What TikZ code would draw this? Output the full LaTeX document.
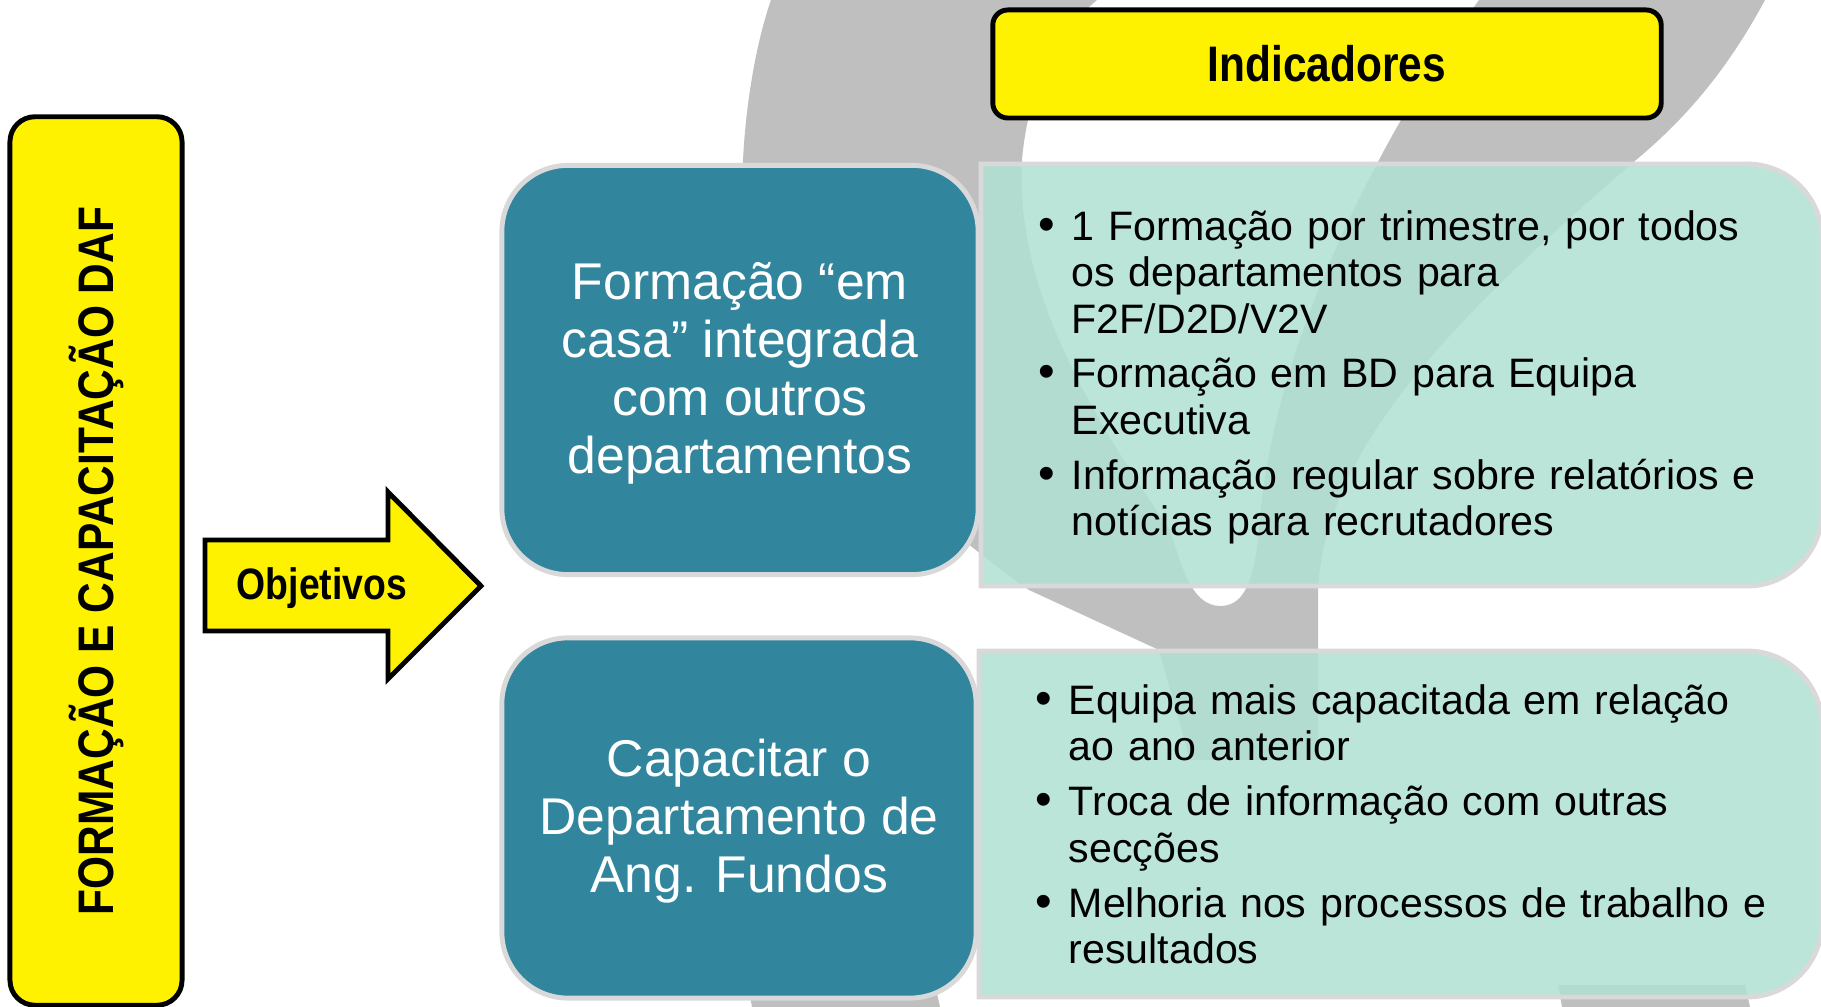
\documentclass[tikz,border=0pt]{standalone}
\usepackage{fontspec}
\setmainfont{Liberation Sans}
\newfontfamily\narrowfont[FakeStretch=0.85]{Liberation Sans}
\usepackage{tikz}
\usetikzlibrary{positioning}

\definecolor{tealbox}{RGB}{49,133,156}
\definecolor{mint}{RGB}{176,225,211}
\definecolor{bggray}{RGB}{191,191,191}
\definecolor{rimgray}{RGB}{217,217,217}

\newenvironment{kpilist}{%
  \hyphenpenalty=10000\exhyphenpenalty=10000
  \begin{list}{\textbullet}{%
    \setlength{\leftmargin}{0.26cm}\setlength{\labelwidth}{0.26cm}%
    \setlength{\labelsep}{0pt}\setlength{\itemsep}{2.4pt}%
    \setlength{\parsep}{0pt}\setlength{\topsep}{0pt}\setlength{\partopsep}{0pt}%
    \renewcommand{\makelabel}[1]{\hspace{-0.07cm}{\fontsize{13.5pt}{13.5pt}\selectfont##1}\hfil}}}
  {\end{list}}

\begin{document}
\begin{tikzpicture}[x=0.01cm, y=-0.01cm,
    hl/.style={draw=black, line width=1.4pt, fill=yellow, rounded corners=0.15cm},
    goal/.style={draw=rimgray, line width=1.4pt, fill=tealbox, rounded corners=0.66cm, text=white, align=center, font=\fontsize{14.7pt}{16.5pt}\selectfont},
    kpi/.style={draw=rimgray, line width=1.4pt, fill=mint, fill opacity=0.86},
    kpitext/.style={anchor=west, text width=7.31cm, align=left, inner sep=0pt, font=\fontsize{11.7pt}{13.2pt}\selectfont}
]
    \useasboundingbox (0,0) rectangle (1821,1007);

    % Background mark
    \fill[bggray, even odd rule]
        (1029,590) .. controls (860,470) and (735,320) .. (743,160)
        .. controls (746,100) and (757,40) .. (771,0)
        .. controls (820,-180) and (1040,-330) .. (1300,-330)
        .. controls (1620,-330) and (1840,-160) .. (1765,0)
        .. controls (1730,65) and (1690,115) .. (1636,160)
        .. controls (1450,320) and (1325,450) .. (1318,590)
        -- (1318,760) -- (1190,760) -- (1159,650) -- cycle
        (1220,606) .. controls (1190,606) and (1180,560) .. (1170,530)
        .. controls (1080,400) and (1015,280) .. (1022,160)
        .. controls (1028,90) and (1055,35) .. (1097,0)
        .. controls (1160,-60) and (1250,-90) .. (1310,-90)
        .. controls (1420,-90) and (1520,-50) .. (1479,0)
        .. controls (1440,55) and (1405,110) .. (1379,160)
        .. controls (1310,290) and (1265,420) .. (1258,540)
        .. controls (1252,590) and (1240,606) .. (1220,606) -- cycle;
    \fill[bggray] (748,985) -- (935,985) -- (940,1007) -- (752,1007) -- cycle;
    \fill[bggray] (1558,985) -- (1745,985) -- (1750,1007) -- (1562,1007) -- cycle;

    % Indicator panels
    \draw[kpi] (981,586) -- (981,164) [rounded corners=0.75cm] -- (1822,164) -- (1822,586) [sharp corners] -- cycle;
    \draw[kpi] (979,997) -- (979,651) [rounded corners=0.75cm] -- (1822,651) -- (1822,997) [sharp corners] -- cycle;

    % Objectives
    \node[goal, minimum width=4.76cm, minimum height=4.09cm] (goal1) at (740,370) {\parbox{4.4cm}{\vspace*{0.07cm}\centering Formação “em\\casa” integrada\\com outros\\departamentos}};
    \node[goal, minimum width=4.74cm, minimum height=3.60cm] (goal2) at (739,818) {\parbox{4.4cm}{\vspace*{0.07cm}\centering Capacitar o\\Departamento de\\Ang. Fundos}};

    % Indicators
    \node[kpitext] (kpi1) at (1045,369) {\begin{kpilist}
        \item 1 Formação por trimestre, por todos os departamentos para\newline F2F/D2D/V2V
        \item Formação em BD para Equipa Executiva
        \item Informação regular sobre relatórios e notícias para recrutadores
    \end{kpilist}};
    \node[kpitext] (kpi2) at (1042,816) {\begin{kpilist}
        \item Equipa mais capacitada em relação ao ano anterior
        \item Troca de informação com outras secções
        \item Melhoria nos processos de trabalho e resultados
    \end{kpilist}};

    % Headers
    \node[hl, minimum width=6.68cm, minimum height=1.08cm, font=\narrowfont\bfseries\fontsize{14.2pt}{16pt}\selectfont] (head) at (1327,64) {Indicadores};
    \node[hl, rounded corners=0.25cm, rotate=90, minimum width=8.88cm, minimum height=1.72cm, inner sep=0pt, font=\narrowfont\bfseries\fontsize{14.2pt}{16pt}\selectfont] (daf) at (96,561) {FORMAÇÃO E CAPACITAÇÃO DAF};

    % Arrow
    \draw[hl, rounded corners=0pt, line join=miter] (205,540) -- (388,540) -- (388,492) -- (481,586) -- (388,679) -- (388,631) -- (205,631) -- cycle;
    \node[font=\narrowfont\bfseries\fontsize{12.5pt}{14pt}\selectfont] (objt) at (322,588) {Objetivos};
\end{tikzpicture}
\end{document}
